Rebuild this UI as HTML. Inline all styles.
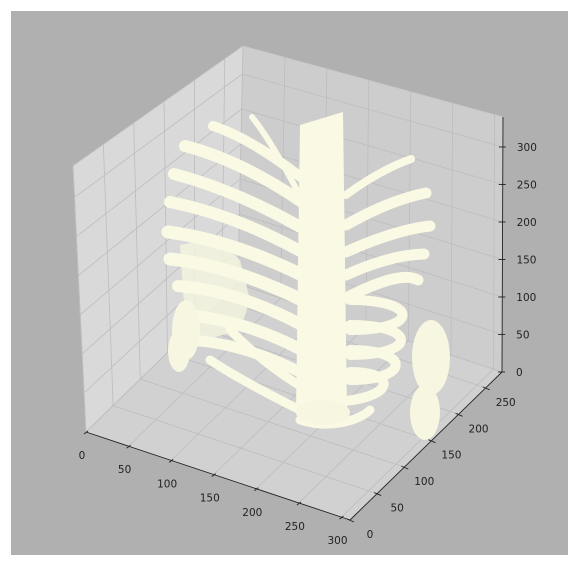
<!DOCTYPE html>
<html><head><meta charset="utf-8"><style>
html,body{margin:0;padding:0;background:#fff;}
svg{display:block;font-family:"DejaVu Sans","Liberation Sans",sans-serif;}
</style></head><body>
<svg id="chart" width="579" height="565" viewBox="0 0 579 565" xmlns="http://www.w3.org/2000/svg">
<rect x="0" y="0" width="579" height="565" fill="#ffffff"/>
<rect x="11" y="11" width="557" height="544" fill="#b0b0b0"/>
<g id="panes"></g>
<g id="grid"></g>
<g id="bones" fill="none" stroke="#f9f9e4" stroke-linecap="round"></g>
<g id="axes"></g>
</svg>
<script>
const xTicks=[0,50,100,150,200,250,300];
const yTicks=[0,50,100,150,200,250];
const zTicks=[0,50,100,150,200,250,300];
const xMax=310, yMax=280, zMax=340;
// rib data: [endX,endY,joinX,joinY,ctrlX,ctrlY,width]
const leftRibs=[[252,117,300,196,272,142,6],[213,126,302,178,250,138,10],[185,146,302,202,240,160,12],[174,174,302,228,235,190,12],[170,202,302,252,235,215,12],[168,232,302,275,230,240,13],[170,259,302,300,230,265,13],[178,286,302,325,235,290,12],[181,315,302,350,240,318,12],[186,340,300,372,240,342,11]];
const rightRibs=[[411,159,346,195,380,170,8],[426,193,346,225,390,200,11],[430,226,346,252,395,230,11],[424,254,346,275,390,255,11],[418,280,346,298,400,270,11]];
const lowerArcs=[[350,300,420,300,420,330,350,330,10],[350,325,418,325,418,355,350,355,10],[350,350,412,350,410,380,350,380,10],[350,372,400,372,395,400,330,402,10],[230,330,260,360,300,390,330,400,9],[210,360,240,380,280,400,300,410,9],[300,420,330,430,360,420,370,410,9]];
const blobs=[[172,300,200,360,"left-scapula"],[168,330,190,372,"left-lower-blob"],[412,320,450,395,"right-scapula"],[410,385,440,440,"right-lower-blob"],[296,400,350,425,"sternum-base"]];
const sideMass=[[180,245],[215,238],[240,260],[250,300],[240,330],[205,340],[185,320]];
const spine=[[300,125],[343,112],[347,412],[296,412]];

const ns="http://www.w3.org/2000/svg";
function mk(tag,attrs,parent){const e=document.createElementNS(ns,tag);for(const k in attrs)e.setAttribute(k,attrs[k]);parent.appendChild(e);return e;}
const F0=[86,432],F1=[350,520],F2=[502,372],F3=[238,284];
const T0=[73,166],T2=[503,117],T3=[243,46];
function lerp(a,b,t){return [a[0]+(b[0]-a[0])*t,a[1]+(b[1]-a[1])*t];}
const panes=document.getElementById('panes');
const grid=document.getElementById('grid');
const axes=document.getElementById('axes');
function poly(pts,fill,name){const e=mk('polygon',{points:pts.map(p=>p.join(',')).join(' '),fill:fill,stroke:'#c8c8c8','stroke-width':0.8},panes);}
poly([F0,F3,T3,T0],'#d9d9d9','pane-left');
poly([F3,F2,T2,T3],'#cdcdcd','pane-back');
poly([F0,F1,F2,F3],'#d1d1d1','pane-floor');
function gl(a,b,name){const e=mk('line',{x1:a[0],y1:a[1],x2:b[0],y2:b[1],stroke:'#bdbdbd','stroke-width':0.8},grid);}
xTicks.forEach(t=>{const u=t/xMax;gl(lerp(F0,F1,u),lerp(F3,F2,u),'floor-grid-x');});
yTicks.forEach(t=>{const v=t/yMax;gl(lerp(F0,F3,v),lerp(F1,F2,v),'floor-grid-y');});
yTicks.forEach(t=>{const v=t/yMax;gl(lerp(F0,F3,v),lerp(T0,T3,v),'left-grid-y');});
zTicks.forEach(t=>{const w=t/zMax;gl(lerp(F0,T0,w),lerp(F3,T3,w),'left-grid-z');});
xTicks.forEach(t=>{const u=t/xMax;gl(lerp(F3,F2,u),lerp(T3,T2,u),'back-grid-x');});
zTicks.forEach(t=>{const w=t/zMax;gl(lerp(F3,T3,w),lerp(F2,T2,w),'back-grid-z');});
const bones=document.getElementById('bones');
const sm=mk('polygon',{points:sideMass.map(p=>p.join(',')).join(' '),fill:'#f3f3df',stroke:'none',opacity:0.85},bones);


const sp=mk('polygon',{points:spine.map(p=>p.join(',')).join(' '),fill:'#f9f9e4',stroke:'none'},bones);


leftRibs.concat(rightRibs).forEach(r=>{const e=mk('path',{d:`M${r[0]},${r[1]} Q${r[4]},${r[5]} ${r[2]},${r[3]}`,'stroke-width':r[6]},bones);

});
lowerArcs.forEach(a=>{const e=mk('path',{d:`M${a[0]},${a[1]} C${a[2]},${a[3]} ${a[4]},${a[5]} ${a[6]},${a[7]}`,'stroke-width':a[8]},bones);

});
blobs.forEach(b=>{const e=mk('ellipse',{cx:(b[0]+b[2])/2,cy:(b[1]+b[3])/2,rx:(b[2]-b[0])/2,ry:(b[3]-b[1])/2,fill:'#f6f6e1',stroke:'none'},bones);

});
function al(a,b,name){const e=mk('line',{x1:a[0],y1:a[1],x2:b[0],y2:b[1],stroke:'#222','stroke-width':0.9},axes);}
al(F0,F1,'x-axis-line');al(F1,F2,'y-axis-line');al(F2,T2,'z-axis-line');
function txt(p,s,anchor,name){const e=mk('text',{x:p[0],y:p[1],'font-size':10.5,fill:'#222','text-anchor':anchor},axes);e.textContent=s;}
xTicks.forEach(t=>{const p=lerp(F0,F1,t/xMax);al([p[0]-2,p[1]+2],[p[0]+2,p[1]-1],'x-tick');txt([p[0]-4,p[1]+27],String(t),'middle','x-tick-label');});
yTicks.forEach(t=>{const p=lerp(F1,F2,t/yMax);al([p[0]-3,p[1]-1],[p[0]+4,p[1]+2],'y-tick');txt([p[0]+20,p[1]+18],String(t),'middle','y-tick-label');});
zTicks.forEach(t=>{const p=lerp(F2,T2,t/zMax);al([p[0]-4,p[1]],[p[0]+3,p[1]],'z-tick');txt([p[0]+14,p[1]+4],String(t),'start','z-tick-label');});
</script>
</body></html>
